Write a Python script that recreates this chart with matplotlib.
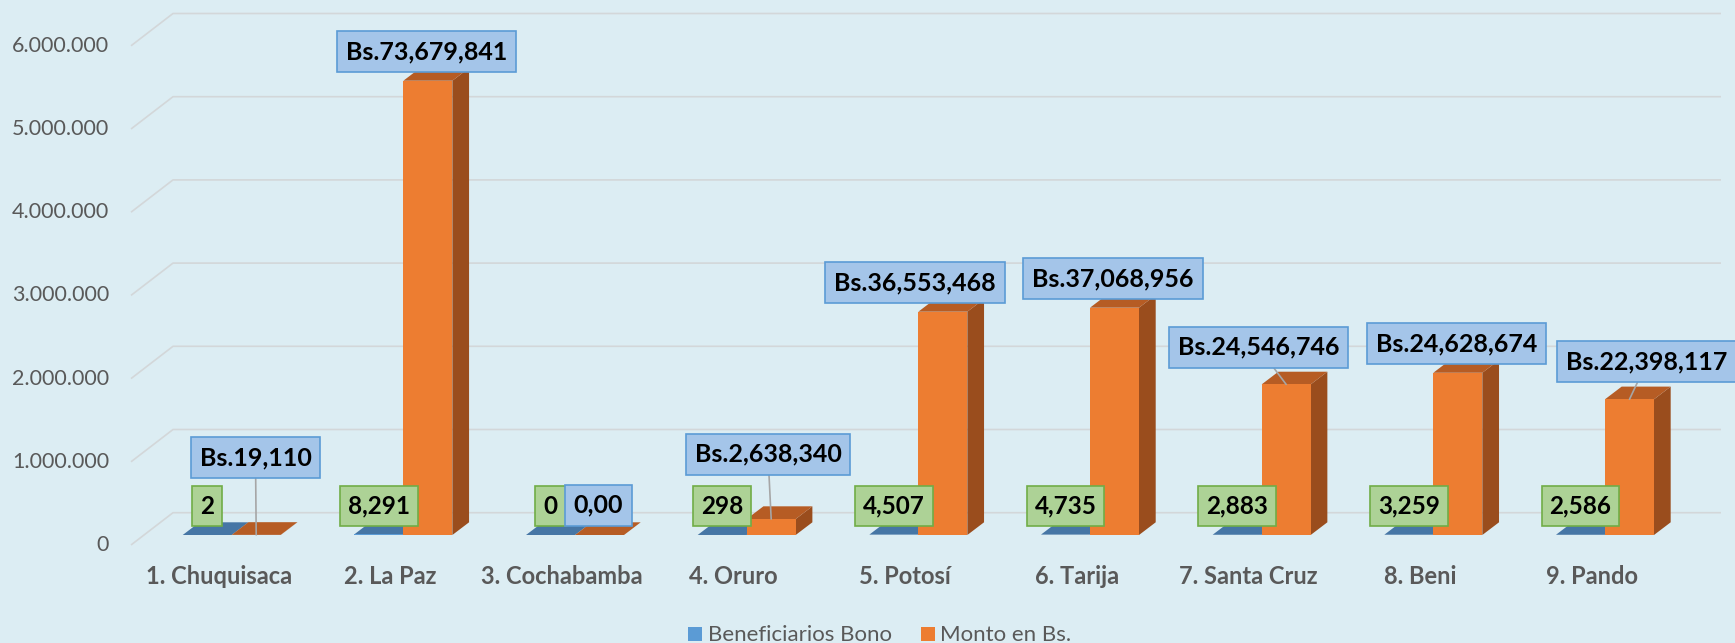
import matplotlib
matplotlib.use('Agg')
import matplotlib.pyplot as plt
from matplotlib.patches import Polygon, Rectangle

departamentos = ['1. Chuquisaca', '2. La Paz', '3. Cochabamba', '4. Oruro', '5. Potosí',
                 '6. Tarija', '7. Santa Cruz', '8. Beni', '9. Pando']
beneficiarios = [2, 8291, 0, 298, 4507, 4735, 2883, 3259, 2586]
# bar heights as drawn in the picture
monto_barra = [1400, 5460000, 0, 192000, 2684000, 2732000, 1810000, 1950000, 1631000]
# numbers written in the data labels
monto_bs = [19110, 73679841, 0, 2638340, 36553468, 37068956, 24546746, 24628674, 22398117]
y_ticks = [0, 1000000, 2000000, 3000000, 4000000, 5000000, 6000000]
series = ['Beneficiarios Bono', 'Monto en Bs.']

# layout (pixels of the 1735x643 image)
W, H = 1735, 643
PPC = 171.66      # px per category
PPV = 83.2e-6     # px per unit of value
X0 = 231.7        # px of first category (blue/orange boundary)
Y0 = 535          # px from top of value 0 at bar front


def cx(px):
    return (px - X0) / PPC


def cy(py):
    return (Y0 - py) / PPV


BW = 49 / PPC
DX = 16.7 / PPC
DY = 12.7 / PPV

bg = '#DCEDF3'
grid_c = '#D3D7D9'
txt_c = '#595959'
font = ['Lato', 'DejaVu Sans']

fig = plt.figure(figsize=(W / 100, H / 100), dpi=100)
fig.patch.set_facecolor(bg)
ax = fig.add_axes([0, 0, 1, 1])
ax.set_xlim(cx(0), cx(W))
ax.set_ylim(cy(H), cy(0))
ax.axis('off')

# gridlines on the back wall plus the diagonal at the side wall
for v in y_ticks:
    ax.plot([cx(131), cx(173), cx(1721)],
            [v + cy(545), v + cy(512.7), v + cy(512.7)],
            color=grid_c, lw=1.2, zorder=1, solid_capstyle='butt')
    ax.text(cx(109), v + cy(545), '{:,}'.format(v).replace(',', '.'),
            ha='right', va='center', fontsize=15.5, color=txt_c, family=font)


def bar3d(x0, h, front, top, side):
    x1 = x0 + BW
    ax.add_patch(Polygon([(x1, 0), (x1 + DX, DY), (x1 + DX, h + DY), (x1, h)],
                         closed=True, fc=side, lw=0, zorder=2))
    ax.add_patch(Polygon([(x0, h), (x1, h), (x1 + DX, h + DY), (x0 + DX, h + DY)],
                         closed=True, fc=top, lw=0, zorder=2))
    ax.add_patch(Rectangle((x0, 0), BW, h, fc=front, lw=0, zorder=2))


for i in range(len(departamentos)):
    bar3d(i - BW, beneficiarios[i], '#5B9BD5', '#4676A5', '#3D6894')
    bar3d(i, monto_barra[i], '#ED7D31', '#B65C24', '#9A4D1D')
    ax.text(i - 13 / PPC, cy(577), departamentos[i], ha='center', va='center',
            fontsize=17, fontweight='bold', color=txt_c, family=font)

# data labels
green_box = dict(boxstyle='square,pad=0.33', fc='#ADD296', ec='#70AD47', lw=1.2)
blue_box = dict(boxstyle='square,pad=0.36', fc='#A4C5E9', ec='#5B9BD5', lw=1.2)
lbl_dx = [-0.7, -1.2, -1.1, -3.2, -28.1, -1.3, -27.8, -1.1, 17.7]
lbl_dy = [77.3, 28.9, 29.8, 64.7, 29.2, 29.0, 37.1, 29.2, 37.6]
leader = [True, False, False, True, False, False, True, False, True]

for i in range(len(departamentos)):
    ax.annotate('{:,}'.format(beneficiarios[i]), xy=(i - BW / 2, 0),
                xytext=(0, 29 * 0.72), textcoords='offset points',
                ha='center', va='center', fontsize=17.5, fontweight='bold',
                family=font, bbox=green_box, zorder=6)
    txt = 'Bs.{:,}'.format(monto_bs[i]) if monto_bs[i] else '0,00'
    arrow = None
    if leader[i]:
        arrow = dict(arrowstyle='-', color='#A6A6A6', lw=1.2, shrinkA=0, shrinkB=0)
    ax.annotate(txt, xy=(i + BW / 2, monto_barra[i]),
                xytext=(lbl_dx[i] * 0.72, lbl_dy[i] * 0.72), textcoords='offset points',
                ha='center', va='center', fontsize=18, fontweight='bold',
                family=font, bbox=blue_box, arrowprops=arrow, zorder=6)

# legend
for x_sq, x_txt, col, name in [(688.3, 708.3, '#5B9BD5', series[0]),
                                (921, 940, '#ED7D31', series[1])]:
    ax.add_patch(Rectangle((cx(x_sq), cy(640.7)), 13.7 / PPC, 13.4 / PPV,
                           fc=col, lw=0, zorder=3))
    ax.text(cx(x_txt), cy(640.7), name, ha='left', va='baseline',
            fontsize=16, color=txt_c, family=font)

fig.savefig('out.png', dpi=100, facecolor=bg)
